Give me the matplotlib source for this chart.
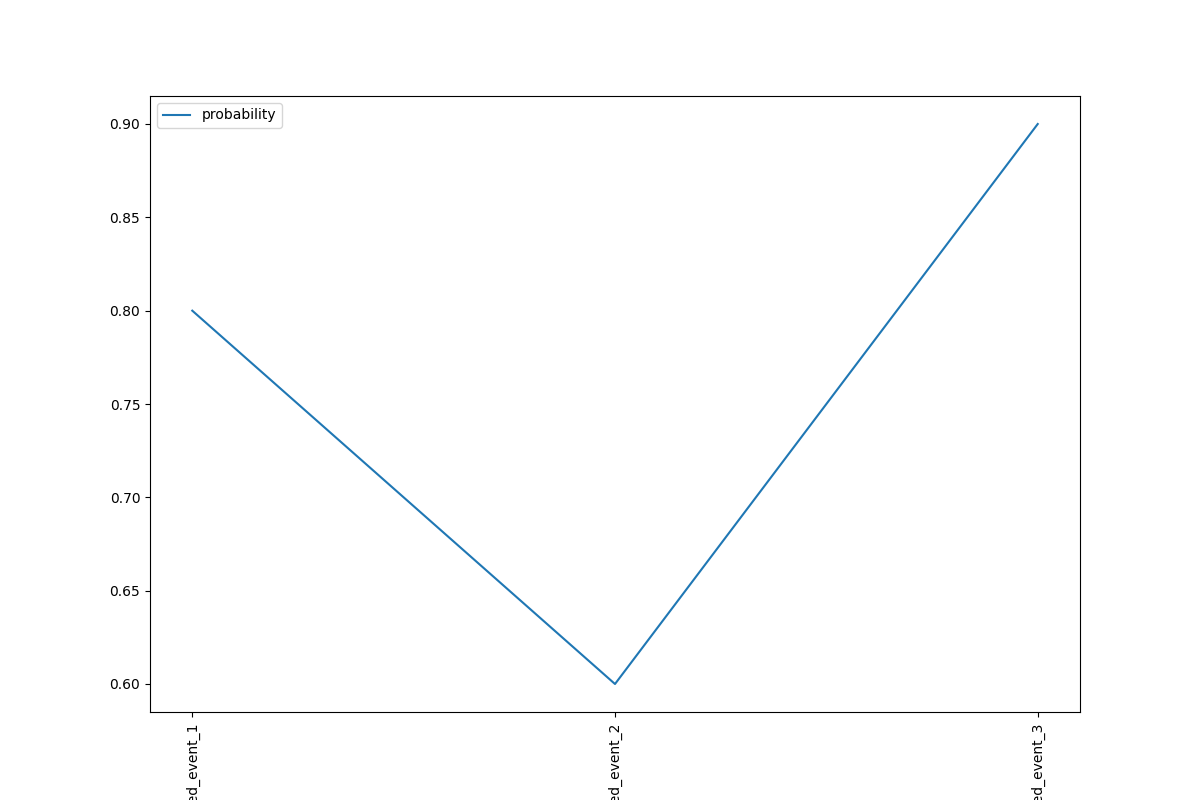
import matplotlib
matplotlib.use("Agg")
import matplotlib.pyplot as plt

events = ["predicted_event_1", "predicted_event_2", "predicted_event_3"]
probability = [0.8, 0.6, 0.9]

fig, ax = plt.subplots(figsize=(12, 8), dpi=100)
ax.plot(events, probability, label="probability")
ax.legend(loc="upper left")
plt.xticks(rotation=90)
fig.savefig("out.png")
